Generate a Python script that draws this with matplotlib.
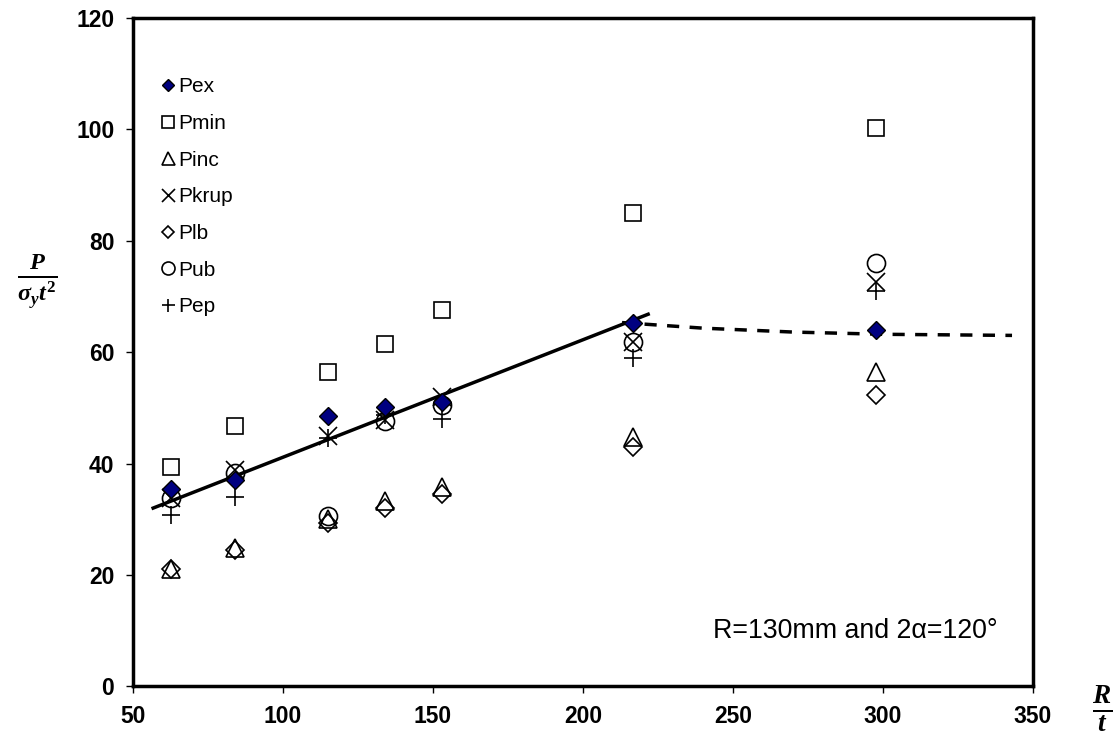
import numpy as np
import matplotlib.pyplot as plt

plt.rcParams['font.family'] = ['Liberation Sans', 'DejaVu Sans']
plt.rcParams['mathtext.fontset'] = 'custom'
plt.rcParams['mathtext.it'] = 'Liberation Serif:bold:italic'
plt.rcParams['mathtext.rm'] = 'Liberation Serif:bold'

# R/t values
rt = np.array([62.5, 83.9, 115.0, 134.0, 153.0, 216.7, 297.5])

p_ex = np.array([35.5, 37.0, 48.5, 50.1, 51.0, 65.2, 64.0])
p_min = np.array([39.3, 46.7, 56.5, 61.5, 67.5, 85.0, 100.3])
p_inc = np.array([21.0, 24.8, 30.0, 33.3, 35.7, 44.7, 56.5])
p_krup = np.array([33.8, 38.8, 45.0, 47.8, 52.0, 61.8, 72.5])
p_lb = np.array([21.0, 24.5, 29.3, 32.0, 34.5, 43.0, 52.3])
p_ub = np.array([33.8, 38.3, 30.5, 47.6, 50.5, 61.8, 76.0])
p_ep = np.array([30.8, 34.0, 44.5, 48.7, 48.0, 59.0, 71.0])

# trend lines
fit_x = np.array([56.7, 221.7])
fit_y = np.array([32.0, 66.8])
dash_x = np.array([213, 240, 270, 300, 343])
dash_y = np.array([65.3, 64.3, 63.6, 63.2, 63.0])

fig = plt.figure(figsize=(11.18, 7.46), dpi=100)
ax = fig.add_axes([0.119, 0.080, 0.805, 0.896])

ax.plot(fit_x, fit_y, color='black', lw=2.5, zorder=1)
ax.plot(dash_x, dash_y, color='black', lw=2.5, ls=(0, (3.5, 3)), zorder=1)

ax.plot(rt, p_ex, 'D', color='#000080', mec='black', mew=1, ms=9, ls='none', label='Pex', zorder=3)
ax.plot(rt, p_min, 's', mfc='none', mec='black', mew=1.2, ms=12, ls='none', label='Pmin')
ax.plot(rt, p_inc, '^', mfc='none', mec='black', mew=1.2, ms=13, ls='none', label='Pinc')
ax.plot(rt, p_krup, 'x', color='black', mew=1.2, ms=13, ls='none', label='Pkrup')
ax.plot(rt, p_lb, 'D', mfc='none', mec='black', mew=1.2, ms=9, ls='none', label='Plb')
ax.plot(rt, p_ub, 'o', mfc='none', mec='black', mew=1.2, ms=13, ls='none', label='Pub')
ax.plot(rt, p_ep, '+', color='black', mew=1.2, ms=13, ls='none', label='Pep')

leg = ax.legend(loc='upper left', bbox_to_anchor=(0.017, 0.93), frameon=False,
                fontsize=15, handlelength=0.7, handletextpad=0.15, labelspacing=0.85,
                markerscale=0.72, borderaxespad=0.2)

ax.set_xlim(50, 350)
ax.set_ylim(0, 120)
ax.set_xticks(np.arange(50, 351, 50))
ax.set_yticks(np.arange(0, 121, 20))
for s in ax.spines.values():
    s.set_linewidth(2.5)
ax.tick_params(direction='out', length=5, width=1, labelsize=16.5, pad=8.5)
for lab in ax.get_xticklabels() + ax.get_yticklabels():
    lab.set_fontweight('bold')

ax.text(0.644, 0.073, 'R=130mm and 2\u03b1=120\u00b0', transform=ax.transAxes, fontsize=19.3)

fig.text(0.033, 0.623, r'$\frac{P}{\sigma_y t^2}$', fontsize=25, ha='center', va='center')
fig.text(0.986, 0.05, r'$\frac{R}{t}$', fontsize=28, ha='center', va='center')

fig.savefig('out.png', dpi=100)
